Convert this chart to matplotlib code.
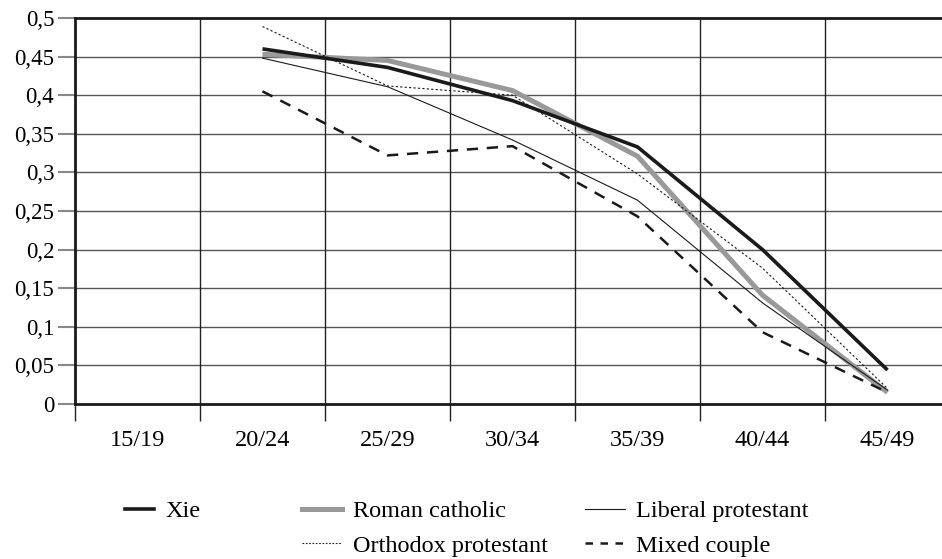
import numpy as np
import matplotlib.pyplot as plt
from matplotlib.lines import Line2D
from matplotlib.ticker import FuncFormatter, FixedLocator

# groupes d'age et valeurs
groupes = ["15/19", "20/24", "25/29", "30/34", "35/39", "40/44", "45/49"]
xie = [np.nan, 0.460, 0.436, 0.393, 0.333, 0.200, 0.044]
roman_catholic = [np.nan, 0.453, 0.445, 0.406, 0.321, 0.141, 0.015]
liberal_protestant = [np.nan, 0.448, 0.411, 0.342, 0.264, 0.131, 0.018]
orthodox_protestant = [np.nan, 0.489, 0.412, 0.400, 0.298, 0.176, 0.020]
mixed_couple = [np.nan, 0.405, 0.322, 0.334, 0.243, 0.093, 0.015]

plt.rcParams['font.family'] = ['Liberation Serif', 'DejaVu Serif']

fig = plt.figure(figsize=(9.42, 5.59), dpi=100)
ax = fig.add_axes([75/942, 155/559, 875/942, 386/559])

centres = np.arange(len(groupes)) + 0.5

ax.plot(centres, xie, color='#1a1a1a', lw=2.6, solid_capstyle='butt', zorder=5)
ax.plot(centres, roman_catholic, color='#999999', lw=3.6, solid_capstyle='butt', zorder=4)
ax.plot(centres, liberal_protestant, color='#1a1a1a', lw=0.8, zorder=4)
ax.plot(centres, orthodox_protestant, color='#1a1a1a', lw=0.8, ls=(0, (2, 2)), zorder=4)
ax.plot(centres, mixed_couple, color='#1a1a1a', lw=1.8, ls=(0, (4.5, 3.5)), zorder=4)

ax.set_xlim(0, 7)
ax.set_ylim(0, 0.5)

# grille
for v in np.arange(0.05, 0.5, 0.05):
    ax.axhline(v, color='#555555', lw=1, zorder=1)
for b in range(1, 7):
    ax.axvline(b, color='#222222', lw=1, zorder=1)

# axe x: traits aux limites, libelles au centre
ax.xaxis.set_major_locator(FixedLocator(range(0, 8)))
ax.xaxis.set_major_formatter(FuncFormatter(lambda v, p: ""))
ax.xaxis.set_minor_locator(FixedLocator(centres))
ax.set_xticklabels(groupes, minor=True)
ax.tick_params(axis='x', which='major', length=12, width=1, color='#222222', direction='out')
ax.tick_params(axis='x', which='minor', length=0, pad=19, labelsize=17.5)

# axe y
ax.set_yticks(np.arange(0, 0.501, 0.05))
def virgule(v, p):
    s = f"{v:.2f}".rstrip('0').rstrip('.')
    return s.replace('.', ',')
ax.yaxis.set_major_formatter(FuncFormatter(virgule))
ax.tick_params(axis='y', length=12, width=1.5, color='#888888', direction='out', pad=3, labelsize=16.5)

for cote in ['left', 'bottom', 'top']:
    ax.spines[cote].set_linewidth(2)
    ax.spines[cote].set_color('#1a1a1a')
ax.spines['right'].set_visible(False)

# legende, trois colonnes posees a la main
h_xie = Line2D([], [], color='#1a1a1a', lw=2.6)
h_rc = Line2D([], [], color='#999999', lw=3.6)
h_lp = Line2D([], [], color='#1a1a1a', lw=0.8)
h_op = Line2D([], [], color='#1a1a1a', lw=0.8, ls=(0, (1.5, 1.5)))
h_mc = Line2D([], [], color='#1a1a1a', lw=1.8, ls=(0, (3, 3)))

haut = 1 - 500/559
opts = dict(loc='upper left', frameon=False, fontsize=17.5, handletextpad=0.45,
            borderpad=0, borderaxespad=0, labelspacing=0.52)
leg1 = fig.legend([h_xie], ["Xie"], bbox_to_anchor=(125/942, haut), handlelength=1.2, **opts)
leg2 = fig.legend([h_rc, h_op], ["Roman catholic", "Orthodox protestant"],
                  bbox_to_anchor=(302/942, haut), handlelength=1.65, **opts)
leg3 = fig.legend([h_lp, h_mc], ["Liberal protestant", "Mixed couple"],
                  bbox_to_anchor=(585/942, haut), handlelength=1.65, **opts)

fig.savefig("out.png", dpi=100)
